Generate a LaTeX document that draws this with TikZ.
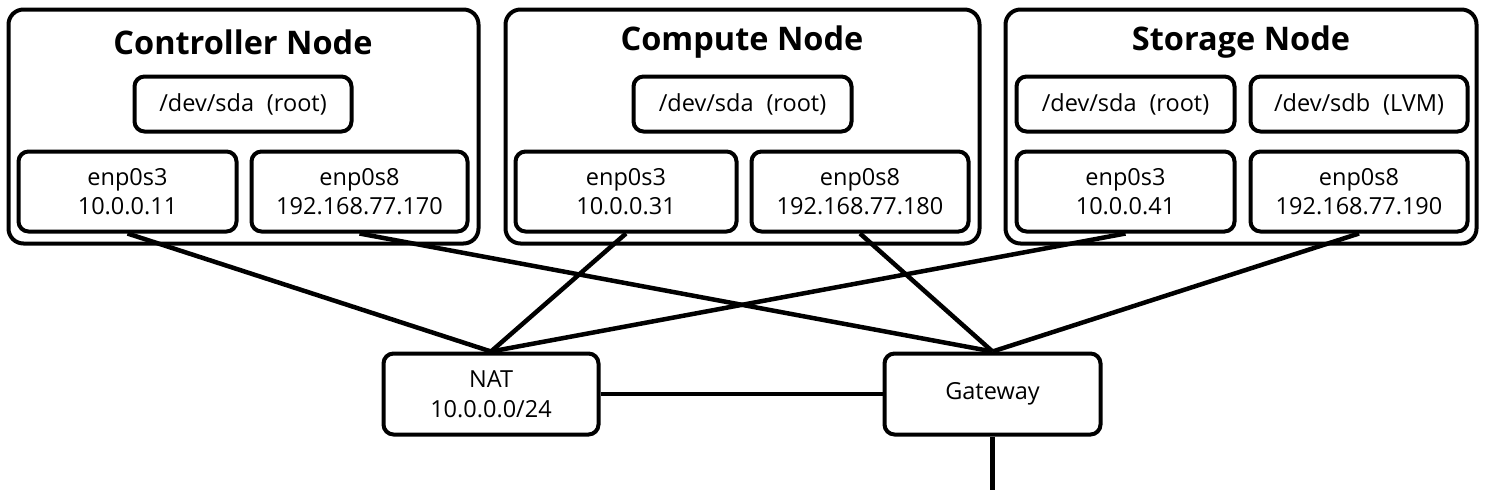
\documentclass[tikz,border=0pt]{standalone}
\usepackage{fontspec}
\setmainfont{Open Sans}
\newcommand{\gapsp}{\hspace{0.55em}}
\begin{document}
\begin{tikzpicture}[x=1pt,y=-1pt,
  outerbox/.style={draw,line width=4pt,rounded corners=15pt,inner sep=0pt},
  innerbox/.style={draw,line width=4pt,rounded corners=10pt,inner sep=0pt,align=center,font=\fontsize{23.5}{29.5}\selectfont},
  titletext/.style={font=\fontsize{32.5}{38}\selectfont\bfseries,inner sep=0pt},
  wire/.style={line width=4.5pt}]
\useasboundingbox (0,0) rectangle (1487,499);
% outer boxes
\node[outerbox,minimum width=470pt,minimum height=234pt] (ctrl) at (243.5,126.5) {};
\node[outerbox,minimum width=474pt,minimum height=234pt] (comp) at (742.5,126.5) {};
\node[outerbox,minimum width=471pt,minimum height=234pt] (stor) at (1241,126.5) {};
\node[titletext] (ctrlT) at (243,42) {Controller Node};
\node[titletext] (compT) at (742,42) {Compute Node};
\node[titletext] (storT) at (1241,42) {Storage Node};
% disks
\node[innerbox,minimum width=217pt,minimum height=55pt] (cdisk) at (243,104) {/dev/sda\gapsp(root)};
\node[innerbox,minimum width=218pt,minimum height=55pt] (mdisk) at (742.5,104) {/dev/sda\gapsp(root)};
\node[innerbox,minimum width=218pt,minimum height=55pt] (sdisk1) at (1125.5,104) {/dev/sda\gapsp(root)};
\node[innerbox,minimum width=217pt,minimum height=55pt] (sdisk2) at (1359,104) {/dev/sdb\gapsp(LVM)};
% interfaces
\node[innerbox,minimum width=218pt,minimum height=80pt] (c3) at (127.5,191.5) {enp0s3\\10.0.0.11};
\node[innerbox,minimum width=216pt,minimum height=80pt] (c8) at (359.5,191.5) {enp0s8\\192.168.77.170};
\node[innerbox,minimum width=221pt,minimum height=80pt] (m3) at (626,191.5) {enp0s3\\10.0.0.31};
\node[innerbox,minimum width=217pt,minimum height=80pt] (m8) at (860,191.5) {enp0s8\\192.168.77.180};
\node[innerbox,minimum width=218pt,minimum height=80pt] (s3) at (1125.5,191.5) {enp0s3\\10.0.0.41};
\node[innerbox,minimum width=217pt,minimum height=80pt] (s8) at (1359,191.5) {enp0s8\\192.168.77.190};
% NAT and gateway
\node[innerbox,minimum width=215pt,minimum height=81pt] (nat) at (491,394) {NAT\\10.0.0.0/24};
\node[innerbox,minimum width=216pt,minimum height=81pt] (gw) at (992.5,394) {Gateway};
\coordinate (out) at (992.5,490);
% wires
\draw[wire] (c3.south) -- (nat.north);
\draw[wire] (m3.south) -- (nat.north);
\draw[wire] (s3.south) -- (nat.north);
\draw[wire] (c8.south) -- (gw.north);
\draw[wire] (m8.south) -- (gw.north);
\draw[wire] (s8.south) -- (gw.north);
\draw[wire] (nat.east) -- (gw.west);
\draw[wire] (gw.south) -- (out);
\end{tikzpicture}
\end{document}
